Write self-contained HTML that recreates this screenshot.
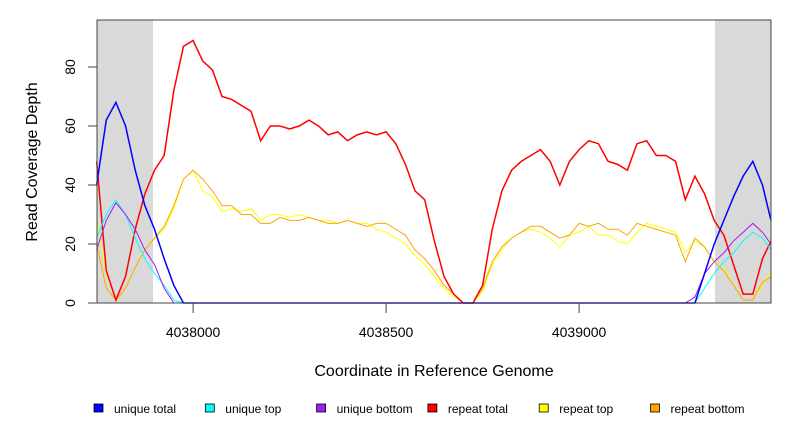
<!DOCTYPE html>
<html><head><meta charset="utf-8"><style>
body{margin:0;background:#fff}
svg{display:block;font-family:"Liberation Sans",Arial,sans-serif}
</style></head><body>
<svg id="chart" width="792" height="432">
<rect x="97" y="20" width="56" height="283" fill="#d9d9d9"/>
<rect x="715" y="20" width="56" height="283" fill="#d9d9d9"/>
<g id="series"></g>
<rect x="97" y="20" width="674" height="283" fill="none" stroke="#444" stroke-width="1"/>
<g id="axes"></g>
<text transform="translate(37,162) rotate(-90)" text-anchor="middle" font-size="16">Read Coverage Depth</text>
<text x="434" y="376" text-anchor="middle" font-size="16">Coordinate in Reference Genome</text>
<g id="legend"></g>
</svg>
<script>
const coords=[];for(let c=4037750;c<=4039500;c+=25)coords.push(c);
const uniqueTotal=[40,62,68,60,45,33,25,15,6,0,0,0,0,0,0,0,0,0,0,0,0,0,0,0,0,0,0,0,0,0,0,0,0,0,0,0,0,0,0,0,0,0,0,0,0,0,0,0,0,0,0,0,0,0,0,0,0,0,0,0,0,0,0,10,20,28,36,43,48,40,28,20];
const uniqueTop=[22,30,35,30,22,15,10,6,1,0,0,0,0,0,0,0,0,0,0,0,0,0,0,0,0,0,0,0,0,0,0,0,0,0,0,0,0,0,0,0,0,0,0,0,0,0,0,0,0,0,0,0,0,0,0,0,0,0,0,0,0,0,0,5,10,14,17,21,24,22,18,14];
const uniqueBottom=[18,28,34,30,25,18,13,5,0,0,0,0,0,0,0,0,0,0,0,0,0,0,0,0,0,0,0,0,0,0,0,0,0,0,0,0,0,0,0,0,0,0,0,0,0,0,0,0,0,0,0,0,0,0,0,0,0,0,0,0,0,0,2,10,14,17,21,24,27,24,20,18];
const repeatTotal=[48,11,1,9,25,37,45,50,72,87,89,82,79,70,69,67,65,55,60,60,59,60,62,60,57,58,55,57,58,57,58,54,47,38,35,21,9,3,0,0,6,25,38,45,48,50,52,48,40,48,52,55,54,48,47,45,54,55,50,50,48,35,43,37,28,23,13,3,3,15,21];
const repeatTop=[28,10,1,5,12,18,22,25,32,42,45,38,36,31,32,31,32,28,30,30,29,30,29,28,28,27,28,27,27,25,24,22,20,16,13,9,5,2,0,0,4,13,18,22,24,25,24,22,19,23,24,26,23,23,21,20,24,27,26,25,24,17,21,19,14,12,6,1,1,6,11];
const repeatBottom=[20,5,1,5,12,18,22,26,33,42,45,42,38,33,33,30,30,27,27,29,28,28,29,28,27,27,28,27,26,27,27,25,23,18,15,11,6,3,0,0,5,14,19,22,24,26,26,24,22,23,27,26,27,25,25,23,27,26,25,24,23,14,22,19,14,11,6,1,1,7,9];
const yTicks=[0,20,40,60,80];
const xTicks=[4038000,4038500,4039000];
const seriesNames=["unique total","unique top","unique bottom","repeat total","repeat top","repeat bottom"];
const seriesColors=["#0000ff","#00ffff","#a020f0","#ff0000","#ffff00","#ffa500"];
const NS="http://www.w3.org/2000/svg";
const X=c=>97+(c-4037751)*193/500;
const Y=v=>303-v*2.95;
const sg=document.getElementById('series');
const all=[uniqueTotal,uniqueTop,uniqueBottom,repeatTotal,repeatTop,repeatBottom];
const drawOrder=[4,5,3,1,2,0];
drawOrder.forEach(i=>{
  const d=all[i];let p="";
  for(let k=0;k<coords.length&&k<d.length;k++){
    const x=Math.min(X(coords[k]),771),y=Y(d[k]);
    p+=(k===0?"M":"L")+x+","+y;
  }
  const el=document.createElementNS(NS,'path');
  el.setAttribute('d',p);el.setAttribute('fill','none');
  el.setAttribute('stroke',seriesColors[i]);
  el.setAttribute('stroke-width',i===0||i===3?1.5:1);
  
  
  sg.appendChild(el);
});
const ax=document.getElementById('axes');
yTicks.forEach(v=>{
  const l=document.createElementNS(NS,'line');
  l.setAttribute('x1',88);l.setAttribute('x2',97);l.setAttribute('y1',Y(v));l.setAttribute('y2',Y(v));l.setAttribute('stroke','#444');
  
  
  ax.appendChild(l);
  const t=document.createElementNS(NS,'text');
  t.setAttribute('transform','translate(75,'+Y(v)+') rotate(-90)');
  t.setAttribute('text-anchor','middle');t.setAttribute('font-size','14');t.textContent=v;
  
  
  ax.appendChild(t);
});
xTicks.forEach(c=>{
  const l=document.createElementNS(NS,'line');
  l.setAttribute('x1',X(c));l.setAttribute('x2',X(c));l.setAttribute('y1',303);l.setAttribute('y2',313);l.setAttribute('stroke','#444');
  
  
  ax.appendChild(l);
  const t=document.createElementNS(NS,'text');
  t.setAttribute('x',X(c));t.setAttribute('y',337);t.setAttribute('text-anchor','middle');t.setAttribute('font-size','14');t.textContent=c;
  
  
  ax.appendChild(t);
});
const lg=document.getElementById('legend');
seriesNames.forEach((n,i)=>{
  const x0=94+i*111.3;
  const r=document.createElementNS(NS,'rect');
  r.setAttribute('x',x0);r.setAttribute('y',404);r.setAttribute('width',9);r.setAttribute('height',8);
  r.setAttribute('fill',seriesColors[i]);r.setAttribute('stroke','#000');r.setAttribute('stroke-width','0.8');
  
  
  lg.appendChild(r);
  const t=document.createElementNS(NS,'text');
  t.setAttribute('x',x0+20);t.setAttribute('y',413);t.setAttribute('font-size','12');t.textContent=n;
  
  
  lg.appendChild(t);
});
</script>
</body></html>
